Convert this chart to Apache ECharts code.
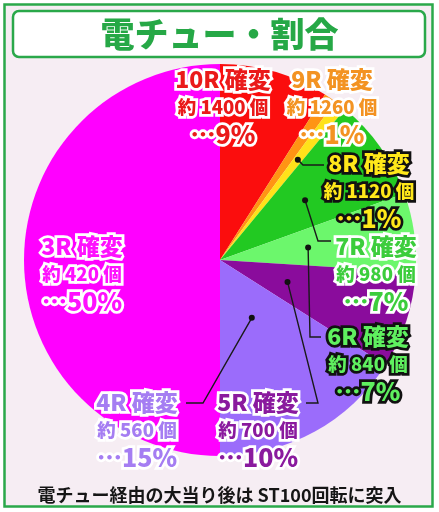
<!DOCTYPE html>
<html>
<head>
<meta charset="utf-8">
<script src="https://cdn.jsdelivr.net/npm/echarts@6/dist/echarts.min.js"></script>
<style>
html,body{margin:0;padding:0;background:#ffffff;}
#chart{width:439px;height:512px;}
</style>
</head>
<body>
<div id="chart"></div>
<script>
// ---- data ----
const categories = ['10R 確変', '9R 確変', '8R 確変', '7R 確変', '6R 確変', '5R 確変', '4R 確変', '3R 確変'];
const ballCounts = [1400, 1260, 1120, 980, 840, 700, 560, 420];
const shareLabels = [9, 1, 1, 7, 7, 10, 15, 50];          // percentages printed in the labels
const sliceValues = [9, 1, 1, 8.5, 6.5, 8, 16, 50];        // slice sizes as drawn in the picture
const titleText = '電チュー・割合';
const footText = '電チュー経由の大当り後は ST100回転に突入';

// ---- styles / layout ----
const sliceColors = ['#fb0d0d', '#ff9414', '#ffe21a', '#22c922', '#6cf76c', '#8a0c9c', '#9b6cfb', '#ff00ff'];
const textFill   = ['#ea1a1a', '#f39322', '#ffe81a', '#3ccd3c', '#5ff05f', '#8a1a9e', '#a57df2', '#ff10ff'];
const textStroke = ['#ffffff', '#ffffff', '#111111', '#ffffff', '#111111', '#ffffff', '#ffffff', '#ffffff'];
const labelPos = [[223, 107], [332, 107], [369, 191], [376, 274], [368, 364], [258, 430], [137, 430], [82, 274]];
const leaderPts = [null, null, [[303, 165], [324, 165]], [[318, 241], [331, 241]], [[310, 337], [321, 337]],
                   [[318, 403], [306, 403]], [[203, 403], [186, 403]], null];
const anchorRadius = [0, 0, 127, 104, 89, 71, 66, 0];
const CX = 220, CY = 260, R = 196;
const FONT = '"Noto Sans CJK JP", "Noto Sans", sans-serif';

const total = sliceValues.reduce((a, b) => a + b, 0);
function anchor(i) {
  let before = 0;
  for (let k = 0; k < i; k++) before += sliceValues[k];
  const mid = (before + sliceValues[i] / 2) / total * 2 * Math.PI;
  const r = anchorRadius[i];
  return [CX + r * Math.sin(mid), CY - r * Math.cos(mid)];
}

const pieData = categories.map((c, i) => {
  const base = {fontFamily: FONT, fontWeight: 900, color: textFill[i],
                textBorderColor: textStroke[i], textBorderWidth: 5.5};
  return {
    name: c,
    value: sliceValues[i],
    itemStyle: {color: sliceColors[i]},
    label: {
      formatter: '{a|' + c + '}\n{b|約 ' + ballCounts[i] + ' 個}\n{c|…' + shareLabels[i] + '%}',
      rich: {
        a: Object.assign({}, base, {fontSize: 23, lineHeight: 27}),
        b: Object.assign({}, base, {fontSize: 18.5, lineHeight: 27}),
        c: Object.assign({}, base, {fontSize: 25, lineHeight: 28})
      }
    }
  };
});

const leaders = [];
categories.forEach((c, i) => {
  if (!leaderPts[i]) return;
  const a = anchor(i);
  leaders.push({
    type: 'polyline', z: 90,
    shape: {points: [a, leaderPts[i][0], leaderPts[i][1]]},
    style: {stroke: '#1a1a1a', lineWidth: 1.4, fill: null}
  });
  leaders.push({
    type: 'circle', z: 91,
    shape: {cx: a[0], cy: a[1], r: 3},
    style: {fill: '#111'}
  });
});

const chart = echarts.init(document.getElementById('chart'));
chart.setOption({
  animation: false,
  backgroundColor: '#ffffff',
  title: [{
    text: titleText, left: 'center', top: 12,
    textStyle: {fontFamily: FONT, fontSize: 34, fontWeight: 900, color: '#26a846'}
  }, {
    text: footText, left: 'center', top: 481,
    textStyle: {fontFamily: FONT, fontSize: 18, fontWeight: 'bold', color: '#151515'}
  }],
  graphic: [{
    type: 'rect', z: -10,
    shape: {x: 4.5, y: 4.5, width: 428, height: 502},
    style: {fill: '#f6edf3', stroke: '#2aa84a', lineWidth: 2.5}
  }, {
    type: 'rect', z: -5,
    shape: {x: 13, y: 11, width: 412, height: 46, r: 6},
    style: {fill: '#ffffff', stroke: '#2aa84a', lineWidth: 2.5}
  }].concat(leaders),
  series: [{
    type: 'pie',
    z: 2,
    center: [CX, CY],
    radius: [0, R],
    startAngle: 90,
    clockwise: true,
    avoidLabelOverlap: false,
    itemStyle: {borderWidth: 0},
    label: {show: true, position: 'outside'},
    labelLine: {show: false},
    labelLayout: function (p) {
      const i = p.dataIndex;
      return {x: labelPos[i][0], y: labelPos[i][1], align: 'center', verticalAlign: 'middle'};
    },
    emphasis: {disabled: true},
    data: pieData
  }]
});
</script>
</body>
</html>
